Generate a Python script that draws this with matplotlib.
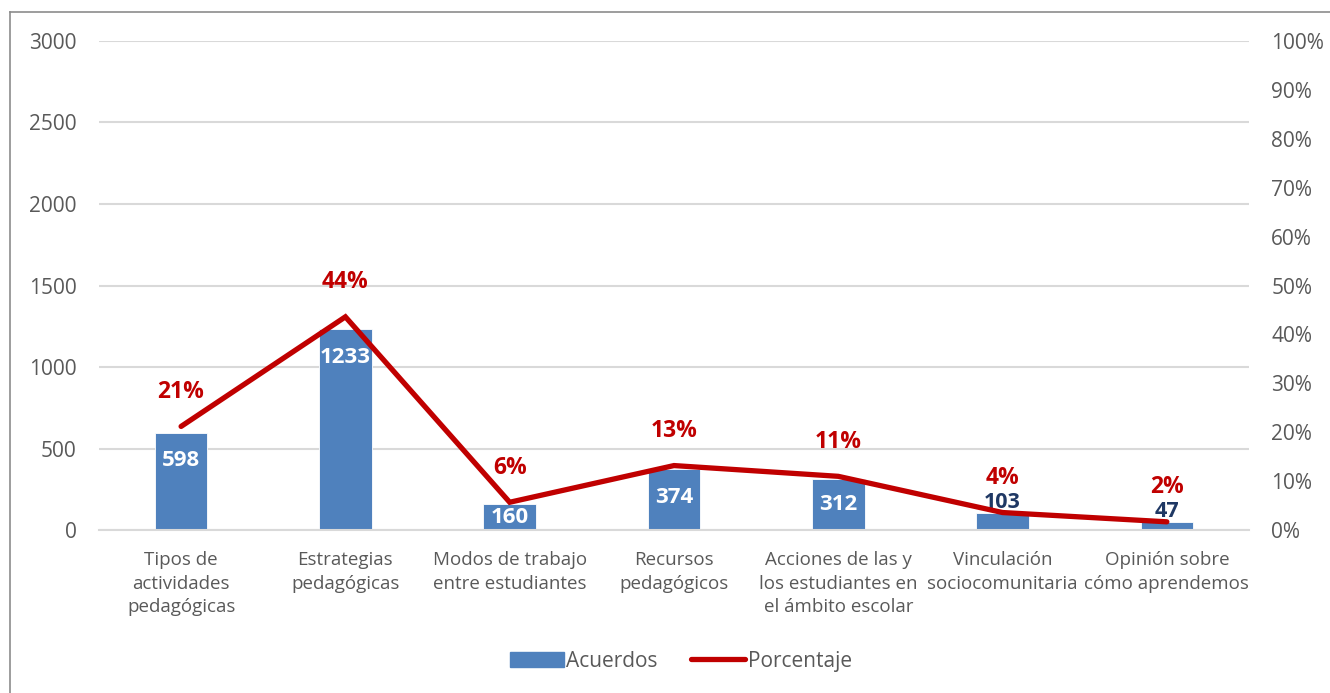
import matplotlib.pyplot as plt
from matplotlib.lines import Line2D

categories = [
    "Tipos de\nactividades\npedagógicas",
    "Estrategias\npedagógicas",
    "Modos de trabajo\nentre estudiantes",
    "Recursos\npedagógicos",
    "Acciones de las y\nlos estudiantes en\nel ámbito escolar",
    "Vinculación\nsociocomunitaria",
    "Opinión sobre\ncómo aprendemos",
]
acuerdos = [598, 1233, 160, 374, 312, 103, 47]
porcentaje = [0.212, 0.436, 0.057, 0.132, 0.110, 0.036, 0.017]
porcentaje_labels = ["21%", "44%", "6%", "13%", "11%", "4%", "2%"]

BAR_COLOR = "#4F81BD"
LINE_COLOR = "#C00000"
TEXT_COLOR = "#595959"

plt.rcParams["font.family"] = ["Open Sans", "DejaVu Sans"]

fig = plt.figure(figsize=(13.3, 6.93), dpi=100)
ax = fig.add_axes([0.0744, 0.235, 0.8647, 0.706])
ax2 = ax.twinx()

x = list(range(len(categories)))

# --- Bars (left axis) ---
ax.bar(x, acuerdos, width=0.32, color=BAR_COLOR, edgecolor="white", linewidth=0.6, zorder=2)
ax.set_ylim(0, 3000)
ax.set_yticks(range(0, 3001, 500))
ax.set_xlim(-0.5, len(categories) - 0.5)
ax.set_xticks(x)
ax.set_xticklabels(categories, fontsize=13.5, color=TEXT_COLOR, linespacing=1.4)
ax.tick_params(axis="x", length=0, pad=15)
ax.tick_params(axis="y", length=0, pad=16, labelsize=15, labelcolor=TEXT_COLOR)
ax.grid(axis="y", color="#D9D9D9", linewidth=1.5, zorder=0)
ax.set_axisbelow(True)
for s in ax.spines.values():
    s.set_visible(False)
ax.spines["bottom"].set_visible(True)
ax.spines["bottom"].set_color("#D9D9D9")
ax.spines["bottom"].set_linewidth(1.5)

for xi, v in zip(x, acuerdos):
    if v > 150:
        ax.text(xi, v - min(172, v / 2), str(v), ha="center", va="center",
                color="white", fontsize=16, fontweight="bold", zorder=4)
    else:
        # small bars: value sits just above the bar
        ax.annotate(str(v), (xi, v), xytext=(0, 0), textcoords="offset points",
                    ha="center", va="bottom", color="#1F3864",
                    fontsize=15.5, fontweight="bold", zorder=4)

# --- Line (right axis) ---
ax2.plot(x, porcentaje, color=LINE_COLOR, linewidth=3.8, solid_capstyle="round",
         solid_joinstyle="miter", zorder=3)
ax2.set_ylim(0, 1)
ax2.set_yticks([i / 10 for i in range(11)])
ax2.set_yticklabels([f"{i * 10}%" for i in range(11)])
ax2.tick_params(axis="y", length=0, pad=16, labelsize=15, labelcolor=TEXT_COLOR)
for s in ax2.spines.values():
    s.set_visible(False)

for xi, p, lab in zip(x, porcentaje, porcentaje_labels):
    ax2.annotate(lab, (xi, p), xytext=(0, 25), textcoords="offset points",
                 ha="center", va="center", color=LINE_COLOR,
                 fontsize=16.5, fontweight="bold")

# --- Legend ---
handles = [
    plt.Rectangle((0, 0), 1, 1, color=BAR_COLOR),
    Line2D([0], [0], color=LINE_COLOR, linewidth=3.8, solid_capstyle="round"),
]
fig.legend(handles, ["Acuerdos", "Porcentaje"], loc="center", bbox_to_anchor=(0.512, 0.046),
           ncol=2, frameon=False, fontsize=15, labelcolor=TEXT_COLOR,
           handlelength=2.6, handletextpad=0.1, columnspacing=1.6)

# chart frame (only top and left edges are visible in the crop)
fig.add_artist(Line2D([10 / 1330, 10 / 1330], [0, 1 - 12 / 693], color="#8C8C8C", linewidth=1.2))
fig.add_artist(Line2D([10 / 1330, 1], [1 - 12 / 693, 1 - 12 / 693], color="#8C8C8C", linewidth=1.2))

fig.savefig("out.png", dpi=100)
